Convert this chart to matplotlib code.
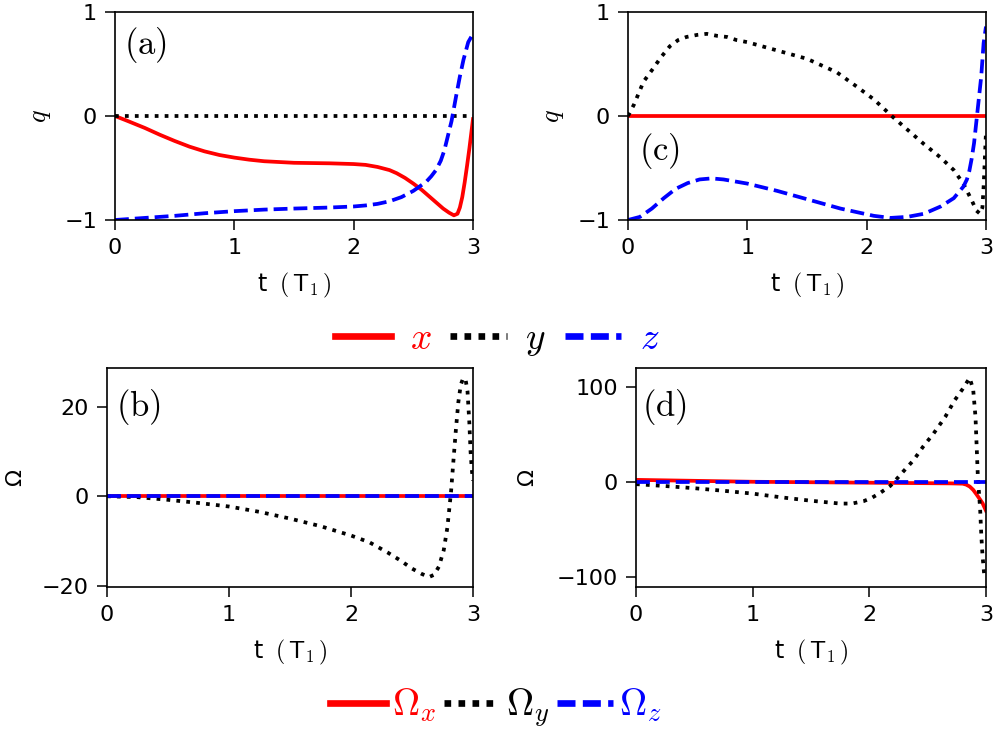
import matplotlib
matplotlib.use("Agg")
import matplotlib.pyplot as plt
from matplotlib.lines import Line2D
from matplotlib.ticker import MultipleLocator

plt.rcParams['mathtext.fontset'] = 'cm'
plt.rcParams['font.family'] = ['DejaVu Sans']

# ---------------- data ----------------
# panel (a): q components vs t
t_a_x = [0, 0.1, 0.25, 0.375, 0.5, 0.625, 0.75, 0.875, 1.0, 1.125, 1.25, 1.5, 1.8, 2.0,
         2.1, 2.2, 2.3, 2.36, 2.43, 2.5, 2.57, 2.64, 2.7, 2.75, 2.8, 2.84, 2.87, 2.89,
         2.91, 2.93, 2.95, 2.97, 3.0]
q_a_x = [0, -0.045, -0.115, -0.18, -0.24, -0.295, -0.34, -0.375, -0.40, -0.42, -0.435,
         -0.45, -0.455, -0.462, -0.47, -0.49, -0.52, -0.55, -0.595, -0.65, -0.71, -0.78,
         -0.84, -0.89, -0.93, -0.955, -0.94, -0.88, -0.78, -0.64, -0.48, -0.31, -0.03]
t_a_y = [0, 3.0]
q_a_y = [0, 0]
t_a_z = [0, 0.25, 0.5, 0.75, 1.0, 1.25, 1.5, 1.8, 2.0, 2.1, 2.2, 2.3, 2.4, 2.5, 2.55,
         2.61, 2.65, 2.69, 2.73, 2.76, 2.79, 2.82, 2.86, 2.89, 2.92, 2.96, 3.0]
q_a_z = [-1.0, -0.98, -0.96, -0.935, -0.915, -0.90, -0.89, -0.88, -0.87, -0.86, -0.845,
         -0.82, -0.78, -0.72, -0.68, -0.63, -0.58, -0.52, -0.43, -0.33, -0.19, -0.05,
         0.20, 0.38, 0.54, 0.71, 0.79]

# panel (c): q components vs t
t_c_x = [0, 3.0]
q_c_x = [0, 0]
t_c_y = [0, 0.05, 0.13, 0.2, 0.28, 0.35, 0.42, 0.49, 0.58, 0.66, 0.75, 0.83, 0.91, 1.0,
         1.25, 1.5, 1.75, 1.92, 2.06, 2.22, 2.34, 2.48, 2.62, 2.73, 2.81, 2.88, 2.92,
         2.95, 2.97, 2.98, 2.99, 3.0]
q_c_y = [0, 0.11, 0.33, 0.44, 0.57, 0.67, 0.73, 0.76, 0.78, 0.79, 0.77, 0.76, 0.73, 0.71,
         0.63, 0.55, 0.42, 0.28, 0.16, -0.01, -0.13, -0.27, -0.40, -0.52, -0.65, -0.81,
         -0.91, -0.94, -0.88, -0.68, -0.42, -0.15]
t_c_z = [0, 0.1, 0.2, 0.3, 0.4, 0.5, 0.6, 0.7, 0.8, 1.0, 1.25, 1.5, 1.78, 2.06, 2.2,
         2.34, 2.48, 2.62, 2.73, 2.81, 2.84, 2.86, 2.88, 2.90, 2.93, 2.96, 2.98, 3.0]
q_c_z = [-1.0, -0.97, -0.89, -0.79, -0.70, -0.645, -0.61, -0.60, -0.61, -0.65, -0.72,
         -0.80, -0.89, -0.96, -0.98, -0.97, -0.94, -0.87, -0.79, -0.68, -0.61, -0.53,
         -0.41, -0.26, 0.06, 0.38, 0.70, 0.86]

# panel (b): Omega components vs t
t_b_x = [0, 3.0]
w_b_x = [0, 0]
t_b_y = [0, 0.25, 0.5, 0.75, 1.0, 1.25, 1.5, 1.75, 2.0, 2.15, 2.3, 2.4, 2.5, 2.58,
         2.64, 2.68, 2.72, 2.76, 2.79, 2.82, 2.84, 2.86, 2.88, 2.90, 2.92, 2.94, 2.955,
         2.97, 2.98, 2.99, 3.0]
w_b_y = [0, -0.2, -0.8, -1.5, -2.3, -3.5, -5.0, -6.7, -8.8, -10.3, -12.6, -14.3, -16.2,
         -17.4, -18.1, -17.6, -15.8, -12.1, -7.0, 1.0, 8.1, 15.0, 21.1, 25.0, 26.5, 26.0,
         23.5, 16.5, 10.0, 6.0, 3.5]
t_b_z = [0, 3.0]
w_b_z = [0, 0]

# panel (d): Omega components vs t
t_d_x = [0, 0.5, 1.0, 1.5, 2.0, 2.5, 2.7, 2.8, 2.83, 2.86, 2.89, 2.92, 2.97, 3.0]
w_d_x = [2.5, 1.5, 0.5, 0, -0.5, -1.0, -1.2, -1.5, -2.5, -4.5, -8.0, -13.0, -22.0, -30.0]
t_d_y = [0, 0.25, 0.5, 0.75, 1.0, 1.25, 1.5, 1.75, 1.85, 1.95, 2.02, 2.09, 2.18, 2.24,
         2.29, 2.38, 2.46, 2.55, 2.65, 2.73, 2.80, 2.86, 2.89, 2.91, 2.92, 2.93, 2.95,
         2.96, 2.97, 2.985, 3.0]
w_d_y = [-2, -4, -6.3, -9, -12, -16, -19.5, -22.5, -22.5, -20, -16.5, -11.5, -3.8, 4.2,
         11.2, 23.4, 37.4, 51.3, 68.8, 86.2, 98.4, 110, 98, 68.8, 37.7, 6.3, -29, -56.5,
         -77, -98, -100]
t_d_z = [0, 3.0]
w_d_z = [0, 0]

panel_labels = ['(a)', '(b)', '(c)', '(d)']
q_legend = ['$x$', '$y$', '$z$']
w_legend = [r'$\Omega_x$', r'$\Omega_y$', r'$\Omega_z$']
colors = ['red', 'black', 'blue']
styles = ['-', ':', '--']
xticks = [0, 1, 2, 3]

# ---------------- figure ----------------
fig = plt.figure(figsize=(9.97, 7.29), dpi=100)
W, H = 997.0, 729.0

def axes_px(l, t, r, b):
    return fig.add_axes([l / W, 1 - b / H, (r - l) / W, (b - t) / H])

ax_a = axes_px(115, 12, 473, 220)
ax_c = axes_px(628, 12, 986, 220)
ax_b = axes_px(107, 368, 473, 587)
ax_d = axes_px(636, 368, 986, 587)

LW = 2.7
FS = 16

def draw(ax, series):
    for (t, v), c, s in zip(series, colors, styles):
        ax.plot(t, v, color=c, linestyle=s, linewidth=LW)
    ax.set_xlim(0, 3)
    ax.set_xticks(xticks)
    ax.tick_params(labelsize=FS, width=1.1, length=7, pad=6)
    for sp in ax.spines.values():
        sp.set_linewidth(1.2)
    ax.set_xlabel(r't $\;(\,\mathsf{T}_1\,)$', fontsize=17, labelpad=9)

draw(ax_a, [(t_a_x, q_a_x), (t_a_y, q_a_y), (t_a_z, q_a_z)])
draw(ax_c, [(t_c_x, q_c_x), (t_c_y, q_c_y), (t_c_z, q_c_z)])
draw(ax_b, [(t_b_x, w_b_x), (t_b_y, w_b_y), (t_b_z, w_b_z)])
draw(ax_d, [(t_d_x, w_d_x), (t_d_y, w_d_y), (t_d_z, w_d_z)])

for ax in (ax_a, ax_c):
    ax.set_ylim(-1, 1)
    ax.set_yticks([-1, 0, 1])
    ax.set_ylabel('$q$', fontsize=FS + 3, labelpad=8)
ax_b.yaxis.set_major_locator(MultipleLocator(20))
ax_d.yaxis.set_major_locator(MultipleLocator(100))
ax_b.set_ylabel('Ω', fontsize=FS, labelpad=12)
ax_d.set_ylabel('Ω', fontsize=FS, labelpad=14)

PFS = 25
ax_a.text(0.025, 0.84, r'$\mathrm{' + panel_labels[0] + '}$', transform=ax_a.transAxes,
          fontsize=PFS, ha='left', va='center')
ax_b.text(0.025, 0.82, r'$\mathrm{' + panel_labels[1] + '}$', transform=ax_b.transAxes,
          fontsize=PFS, ha='left', va='center')
ax_c.text(0.03, 0.33, r'$\mathrm{' + panel_labels[2] + '}$', transform=ax_c.transAxes,
          fontsize=PFS, ha='left', va='center')
ax_d.text(0.018, 0.82, r'$\mathrm{' + panel_labels[3] + '}$', transform=ax_d.transAxes,
          fontsize=PFS, ha='left', va='center')

def handles():
    hs = []
    for c, s in zip(colors, styles):
        h = Line2D([], [], color=c, linewidth=4.8)
        if s == ':':
            h.set_dashes([1.0, 1.1])
        elif s == '--':
            h.set_dashes([2.7, 1.1])
        hs.append(h)
    return hs

LFS = 27
fig.legend(handles(), q_legend, loc='center', bbox_to_anchor=(497 / W, 1 - 340 / H),
           ncol=3, frameon=False, fontsize=LFS, handlelength=1.5, handletextpad=0.5,
           columnspacing=0.5, labelcolor=colors, borderpad=0.1)
fig.legend(handles(), w_legend, loc='center', bbox_to_anchor=(496 / W, 1 - 708 / H),
           ncol=3, frameon=False, fontsize=LFS, handlelength=1.5, handletextpad=0.15,
           columnspacing=0.2, labelcolor=colors, borderpad=0.1)

fig.savefig('out.png', dpi=100)
